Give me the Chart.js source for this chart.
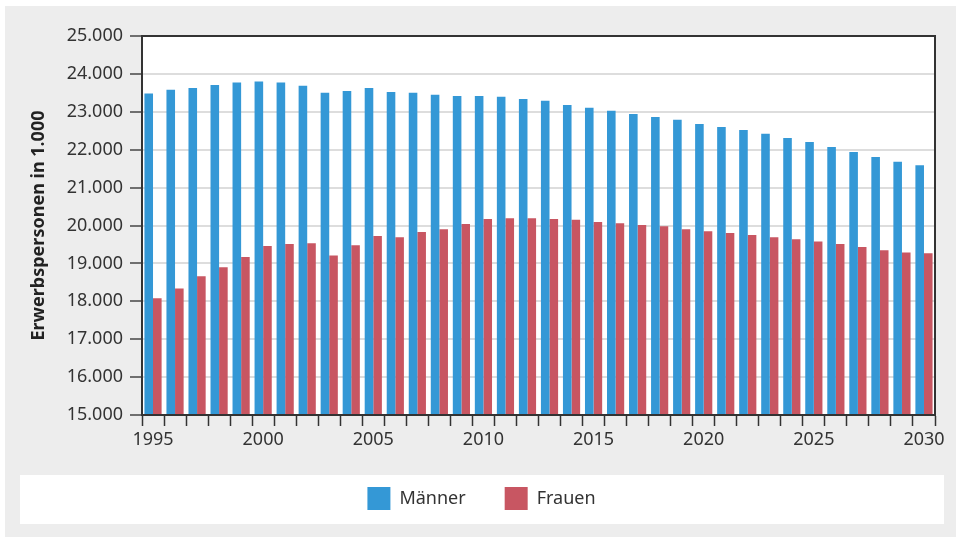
<!DOCTYPE html>
<html>
<head>
<meta charset="utf-8">
<script src="https://cdn.jsdelivr.net/npm/chart.js@4"></script>
<style>
  html, body { margin: 0; padding: 0; background: #fff; }
  #wrap { width: 956px; height: 537px; position: relative; }
</style>
</head>
<body>
<div id="wrap"><canvas id="chart"></canvas></div>
<script>
const years = [];
for (let y = 1995; y <= 2030; y++) years.push(String(y));

const maenner = [
  23480, 23580, 23630, 23710, 23770, 23800, 23770, 23690, 23500, 23550,
  23630, 23520, 23500, 23450, 23420, 23420, 23400, 23340, 23290, 23180,
  23110, 23030, 22940, 22860, 22790, 22680, 22600, 22520, 22420, 22310,
  22200, 22070, 21940, 21810, 21680, 21590
];
const frauen = [
  18080, 18340, 18660, 18900, 19170, 19460, 19510, 19530, 19210, 19480,
  19720, 19690, 19830, 19900, 20040, 20170, 20190, 20190, 20170, 20150,
  20090, 20060, 20010, 19980, 19900, 19850, 19800, 19750, 19690, 19640,
  19580, 19510, 19430, 19350, 19290, 19270
];
const yTicks = [15000, 16000, 17000, 18000, 19000, 20000, 21000, 22000, 23000, 24000, 25000];
const yTitle = 'Erwerbspersonen in 1.000';

const FONT = "'Noto Sans', 'Open Sans', sans-serif";

function fmt(v) {
  return String(v).replace(/\B(?=(\d{3})+(?!\d))/g, '.');
}

// background panels: grey page, white plot area, white legend strip, dark frame
const panels = {
  id: 'panels',
  beforeDraw(chart) {
    const ctx = chart.ctx;
    const a = chart.chartArea;
    ctx.save();
    ctx.fillStyle = '#ffffff';
    ctx.fillRect(0, 0, chart.width, chart.height);
    ctx.fillStyle = '#ededed';
    ctx.fillRect(5, 6, chart.width - 5, chart.height - 6);
    ctx.fillStyle = '#ffffff';
    ctx.fillRect(a.left, a.top, a.right - a.left, a.bottom - a.top);
    ctx.fillRect(20, 475, 924, 49);
    ctx.restore();
  },
  afterDraw(chart) {
    const ctx = chart.ctx;
    const a = chart.chartArea;
    ctx.save();
    ctx.strokeStyle = '#333333';
    ctx.lineWidth = 2;
    ctx.strokeRect(a.left, a.top, a.right - a.left, a.bottom - a.top);
    ctx.restore();
  }
};

new Chart(document.getElementById('chart'), {
  type: 'bar',
  data: {
    labels: years,
    datasets: [{
      label: 'Männer',
      data: maenner,
      backgroundColor: '#3498d6',
      categoryPercentage: 0.78,
      barPercentage: 1.0
    }, {
      label: 'Frauen',
      data: frauen,
      backgroundColor: '#c85662',
      categoryPercentage: 0.78,
      barPercentage: 1.0
    }]
  },
  options: {
    responsive: true,
    maintainAspectRatio: false,
    animation: false,
    layout: {
      padding: { top: 36, right: 21, bottom: 17, left: 28 }
    },
    plugins: {
      tooltip: { enabled: false },
      legend: {
        position: 'bottom',
        labels: {
          boxWidth: 23,
          boxHeight: 23,
          padding: 39,
          color: '#333',
          font: { family: FONT, size: 18 }
        }
      }
    },
    scales: {
      x: {
        offset: true,
        afterFit(s) { s.height = 33; },
        grid: {
          display: true,
          offset: true,
          drawOnChartArea: false,
          tickLength: 11,
          tickColor: '#333',
          tickWidth: 1.5
        },
        border: { display: true, color: '#333', width: 2 },
        ticks: {
          autoSkip: false,
          maxRotation: 0,
          padding: 3,
          color: '#333',
          font: { family: FONT, size: 18 },
          callback(v, i) {
            const y = Number(years[i]);
            return y % 5 === 0 ? years[i] : '';
          }
        }
      },
      y: {
        min: yTicks[0],
        max: yTicks[yTicks.length - 1],
        afterFit(s) { s.width = 114; },
        afterBuildTicks(s) { s.ticks = yTicks.map(v => ({ value: v })); },
        grid: {
          color: '#dddddd',
          lineWidth: 2,
          tickColor: '#444',
          tickLength: 12,
          tickWidth: 1.5
        },
        border: { display: true, color: '#333', width: 2 },
        ticks: {
          padding: 7,
          color: '#333',
          font: { family: FONT, size: 18 },
          callback(v) { return fmt(v); }
        },
        title: {
          display: true,
          text: yTitle,
          color: '#222',
          padding: { top: 0, bottom: 0 },
          font: { family: FONT, size: 18, weight: 'bold' }
        }
      }
    }
  },
  plugins: [panels]
});
</script>
</body>
</html>
